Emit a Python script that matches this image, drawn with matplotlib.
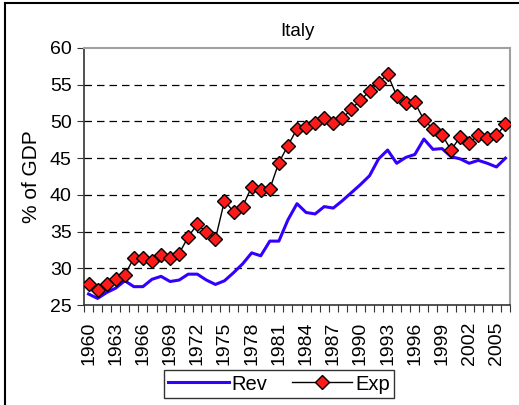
import matplotlib
matplotlib.use("Agg")
import matplotlib.pyplot as plt
from matplotlib.lines import Line2D

plt.rcParams["font.family"] = ["Liberation Sans", "DejaVu Sans"]

years = list(range(1960, 2007))
rev = [26.5, 25.9, 26.7, 27.3, 28.3, 27.5, 27.5, 28.5, 28.9, 28.2,
       28.4, 29.2, 29.2, 28.4, 27.8, 28.3, 29.4, 30.6, 32.1, 31.7,
       33.7, 33.7, 36.6, 38.8, 37.6, 37.4, 38.4, 38.2, 39.2, 40.3,
       41.4, 42.6, 44.9, 46.1, 44.3, 45.1, 45.5, 47.6, 46.2, 46.3,
       45.2, 44.9, 44.3, 44.7, 44.3, 43.8, 45.0]
exp = [27.8, 27.0, 27.8, 28.5, 29.1, 31.4, 31.4, 31.0, 31.8, 31.4,
       32.0, 34.3, 36.0, 34.9, 34.0, 39.2, 37.7, 38.4, 41.1, 40.6,
       40.8, 44.4, 46.7, 49.0, 49.2, 49.8, 50.4, 49.8, 50.4, 51.7,
       52.9, 54.1, 55.3, 56.4, 53.5, 52.5, 52.6, 50.2, 49.0, 48.2,
       46.1, 47.9, 47.1, 48.1, 47.8, 48.1, 49.6]
yticks = [25, 30, 35, 40, 45, 50, 55, 60]

W, H = 519, 405
fig = plt.figure(figsize=(W / 100, H / 100), dpi=100)
ax = fig.add_axes([84 / W, 1 - 305 / H, (510 - 84) / W, (305 - 48) / H])

x = list(range(len(years)))
ax.plot(x, rev, color="#3300ff", lw=2.2, label="Rev", zorder=3)
ax.plot(x, exp, color="black", lw=1, marker="D", ms=7.5, mfc="#ff1a1a",
        mec="black", mew=1, label="Exp", zorder=4)

ax.set_xlim(-0.5, len(years) - 0.5)
ax.set_ylim(25, 60)
ax.set_yticks(yticks)
ax.set_yticklabels([str(v) for v in yticks], fontsize=14)
for v in yticks[1:-1]:
    ax.axhline(v, color="black", lw=0.9, ls=(0, (6, 4)), zorder=1)

ax.set_xticks([i - 0.5 for i in range(len(years) + 1)], minor=False)
ax.set_xticklabels([])
ax.set_xticks(x[::3], minor=True)
ax.set_xticklabels([str(years[i]) for i in x[::3]], minor=True,
                   rotation=90, fontsize=14)
ax.tick_params(axis="x", which="minor", length=0, pad=12)
ax.tick_params(axis="x", which="major", length=5, direction="out", color="#333333")
ax.tick_params(axis="y", length=5, direction="out", color="#333333", pad=4)

for s in ("top", "right"):
    ax.spines[s].set_color("#a0a0a0")
    ax.spines[s].set_linewidth(1.5)
for s in ("left", "bottom"):
    ax.spines[s].set_color("#333333")
    ax.spines[s].set_linewidth(1.2)

ax.set_title("Italy", fontsize=13.5, pad=9)
ax.set_ylabel("% of GDP", fontsize=15, labelpad=6)

handles = [Line2D([], [], color="#3300ff", lw=2.2),
           Line2D([], [], color="black", lw=1, marker="D", ms=7.5,
                  mfc="#ff1a1a", mec="black")]
leg = fig.legend(handles, ["Rev", "Exp"], loc="center",
                 bbox_to_anchor=(279 / W, 1 - 384 / H), ncol=2,
                 fontsize=14.5, frameon=True, fancybox=False, edgecolor="black",
                 handlelength=3.0, handletextpad=0.15, columnspacing=1.2,
                 borderpad=0.2)
leg.get_frame().set_linewidth(1.0)

fig.add_artist(Line2D([5 / W, 1], [1 - 3 / H, 1 - 3 / H], color="black", lw=1.5))
fig.add_artist(Line2D([5 / W, 5 / W], [0, 1 - 3 / H], color="black", lw=1.5))

fig.savefig("out.png", dpi=100)
